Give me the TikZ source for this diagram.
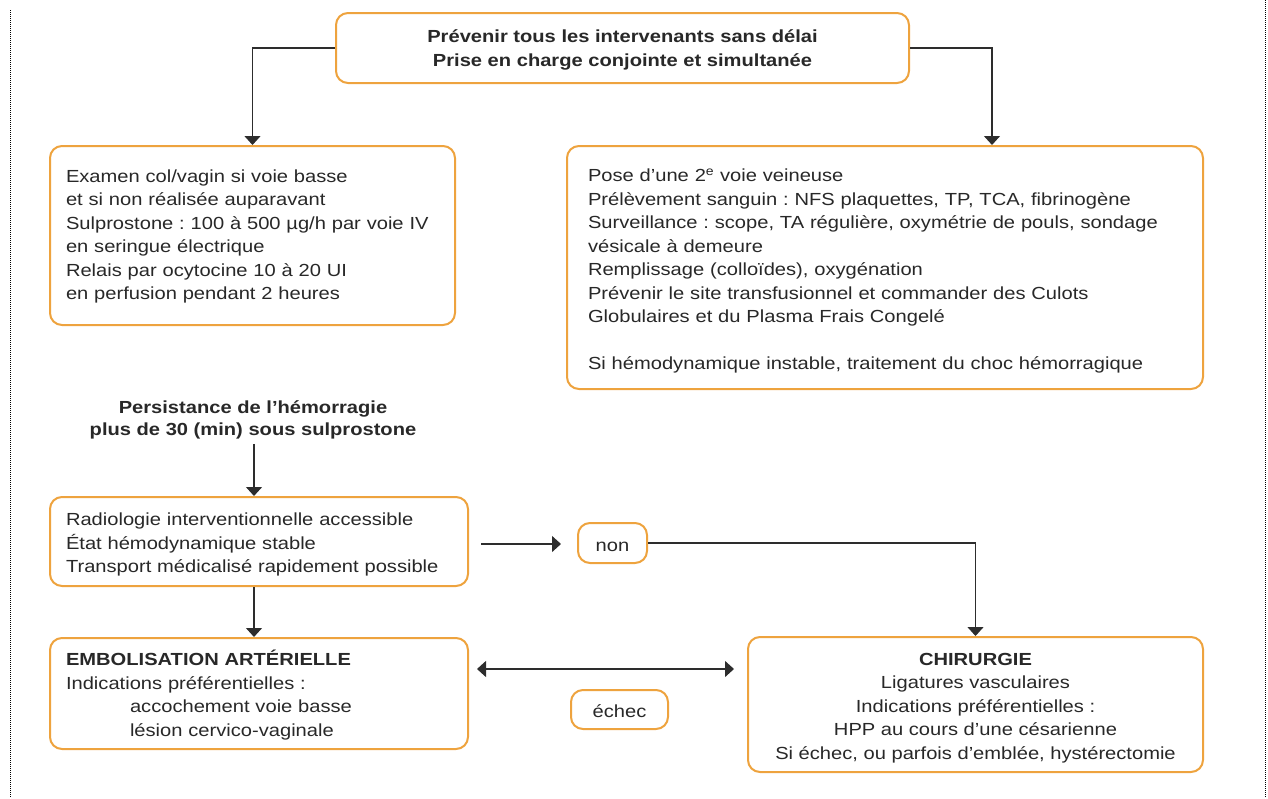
\documentclass[tikz,border=0pt]{standalone}
\usepackage{fontspec}
\setmainfont{Liberation Sans}[FakeStretch=1.15]
\usetikzlibrary{arrows.meta,calc}
\frenchspacing
\definecolor{boxorange}{RGB}{238,163,62}
\definecolor{txt}{RGB}{40,40,40}
\definecolor{lin}{RGB}{45,45,45}
\newcommand\tup[1]{\rule{0pt}{#1}}
\tikzset{
  pbox/.style={draw=boxorange, line width=2pt, rounded corners=12pt, fill=white,
    text=txt, inner ysep=0pt, font=\fontsize{17.5}{23.5}\selectfont},
  lbox/.style 2 args={pbox, align=left, text width=#1-32pt, inner xsep=16pt, minimum height=#2},
  cbox/.style 2 args={pbox, align=center, minimum width=#1, minimum height=#2, inner xsep=4pt},
  plain/.style={text=txt, align=center, font=\fontsize{17.5}{22}\selectfont\bfseries},
  arr/.style={draw=lin, line width=1.3pt, -{Triangle[width=16pt,length=9pt]}},
  darr/.style={draw=lin, line width=1.3pt, {Triangle[width=16pt,length=9pt]}-{Triangle[width=16pt,length=9pt]}},
  border/.style={draw=black, line width=1pt, dash pattern=on 1pt off 1pt}
}
\begin{document}
\begin{tikzpicture}[x=1pt,y=-1pt]
\useasboundingbox (0,0) rectangle (1268,798);
% page edges
\coordinate (bl1) at (10,10);
\coordinate (bl2) at (10,798);
\coordinate (br1) at (1265,0);
\coordinate (br2) at (1265,798);
\draw[border] (bl1) -- (bl2);
\draw[border] (br1) -- (br2);

\node[cbox={573pt}{70pt}, font=\fontsize{17.5}{23.5}\selectfont\bfseries] (top) at (622.5,48)
  {\tup{17pt}Prévenir tous les intervenants sans délai\\Prise en charge conjointe et simultanée};

\node[lbox={405pt}{179pt}] (b1) at (252.5,235.5)
  {\tup{14.5pt}Examen col/vagin si voie basse\\
   et si non réalisée auparavant\\
   Sulprostone : 100 à 500 µg/h par voie IV\\
   en seringue électrique\\
   Relais par ocytocine 10 à 20 UI\\
   en perfusion pendant 2 heures};

\node[pbox, align=left, text width=594pt, inner xsep=21pt, minimum height=243pt] (b2) at (885,267.5)
  {\tup{20pt}Pose d’une 2\textsuperscript{e} voie veineuse\\
   Prélèvement sanguin : NFS plaquettes, TP, TCA, fibrinogène\\
   Surveillance : scope, TA régulière, oxymétrie de pouls, sondage\\
   vésicale à demeure\\
   Remplissage (colloïdes), oxygénation\\
   Prévenir le site transfusionnel et commander des Culots\\
   Globulaires et du Plasma Frais Congelé\\[23.5pt]
   Si hémodynamique instable, traitement du choc hémorragique};

\node[plain] (pers) at (253,420)
  {Persistance de l’hémorragie\\plus de 30 (min) sous sulprostone};

\node[lbox={418pt}{89pt}] (rad) at (259,541.5)
  {\tup{19pt}Radiologie interventionnelle accessible\\
   État hémodynamique stable\\
   Transport médicalisé rapidement possible};

\node[cbox={69pt}{40pt}, text height=16pt, text depth=0pt] (non) at (612.5,543) {non};

\node[lbox={418pt}{111pt}] (emb) at (259,693.5)
  {\tup{19pt}\textbf{EMBOLISATION ARTÉRIELLE}\\
   Indications préférentielles :\\
   \hspace*{64pt}accochement voie basse\\
   \hspace*{64pt}lésion cervico-vaginale};

\node[cbox={97pt}{39pt}, text height=16pt, text depth=0pt] (echec) at (619.5,709.5) {échec};

\node[cbox={455pt}{135pt}] (chir) at (975.5,704.5)
  {\tup{19pt}\textbf{CHIRURGIE}\\
   Ligatures vasculaires\\
   Indications préférentielles :\\
   HPP au cours d’une césarienne\\
   Si échec, ou parfois d’emblée, hystérectomie};

% connectors
\coordinate (rx) at (992,0);
\coordinate (lx) at (254,0);
\draw[arr] (top.west) -| (b1.north);
\draw[arr] (top.east) -| (rx |- b2.north);
\draw[arr] ([yshift=-1pt]pers.south -| lx) -- (lx |- rad.north);
\draw[arr] (lx |- rad.south) -- (lx |- emb.north);
\coordinate (a1) at ($(rad.east)+(12,2.5)$);
\coordinate (a2) at ($(non.west)+(-16,1)$);
\draw[arr] (a1) -- (a2);
\draw[arr] (non.east) -| (chir.north);
\coordinate (d1) at ($(emb.east)+(8,-24.5)$);
\coordinate (d2) at ($(chir.west)+(-13,-35.5)$);
\draw[darr] (d1) -- (d2);
\end{tikzpicture}
\end{document}
